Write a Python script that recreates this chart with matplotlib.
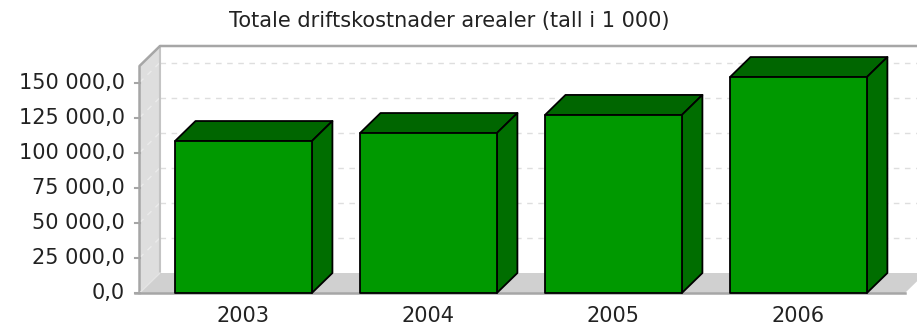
import matplotlib
matplotlib.use('Agg')
import matplotlib.pyplot as plt
from matplotlib.patches import Polygon

years = ['2003', '2004', '2005', '2006']
costs = [108300, 114000, 126900, 153900]
ticks = [0, 25000, 50000, 75000, 100000, 125000, 150000]
tick_labels = ['0,0', '25 000,0', '50 000,0', '75 000,0', '100 000,0', '125 000,0', '150 000,0']
title = 'Totale driftskostnader arealer (tall i 1 000)'

plt.rcParams['font.family'] = 'DejaVu Sans'

fig = plt.figure(figsize=(9.17, 3.29), dpi=100)
ax = fig.add_axes([139.5 / 917, 36 / 329, 765.5 / 917, 227 / 329])
ax.set_xlim(-0.562, 3.576)
ax.set_ylim(0, 161775)
ax.axis('off')

# depth of the fake 3d box in data units
dx = 20.5 / 185
dy = 20 / 35.08 * 25000
xmin, xmax = ax.get_xlim()
ymax = ax.get_ylim()[1]
GREY = '#a6a6a6'
FS = 15


def poly(pts, **kw):
    ax.add_patch(Polygon(pts, closed=True, clip_on=False, **kw))


def line(xs, ys, **kw):
    ax.plot(xs, ys, clip_on=False, **kw)


# walls and floor
poly([(xmin, 0), (xmin + dx, dy), (xmin + dx, ymax + dy), (xmin, ymax)],
     facecolor='#dedede', edgecolor='none', zorder=1)
poly([(xmin, 0), (xmin + dx, dy), (xmax + dx, dy), (xmax, 0)],
     facecolor='#d0d0d0', edgecolor='none', zorder=1)

# grid on side and back wall
for t in ticks[1:]:
    line([xmin, xmin + dx], [t, t + dy], color='#ebebeb', lw=1, ls=(0, (4, 4)), zorder=1.5)
    line([xmin + dx, xmax + dx], [t + dy, t + dy], color='#dedede', lw=1, ls=(0, (4, 4)), zorder=1.5)

# box outline
line([xmin + dx, xmin + dx], [dy, ymax + dy], color='#c4c4c4', lw=1.5, zorder=2)
line([xmin, xmin, xmin + dx, xmax + dx], [0, ymax, ymax + dy, ymax + dy],
     color=GREY, lw=1.8, zorder=2)
line([xmin, xmin + dx], [0, dy], color='#e4e4e4', lw=1, zorder=2)
line([xmin - 0.024, xmax], [0, 0], color=GREY, lw=1.8, zorder=2)
for t in ticks:
    line([xmin - 0.024, xmin], [t, t], color=GREY, lw=1.5, zorder=2)
    ax.annotate(tick_labels[t // 25000], (xmin, t), xytext=(-14.5, 0),
                textcoords='offset pixels', ha='right', va='center',
                fontsize=FS, color='#222222', annotation_clip=False)

# bars
w = 0.37
for i, v in enumerate(costs):
    poly([(i - w, v), (i - w + dx, v + dy), (i + w + dx, v + dy), (i + w, v)],
         facecolor='#006600', edgecolor='black', lw=1.3, joinstyle='round', zorder=3)
    poly([(i + w, 0), (i + w + dx, dy), (i + w + dx, v + dy), (i + w, v)],
         facecolor='#006e00', edgecolor='black', lw=1.3, joinstyle='round', zorder=3)
    poly([(i - w, 0), (i - w, v), (i + w, v), (i + w, 0)],
         facecolor='#009900', edgecolor='black', lw=1.3, joinstyle='round', zorder=4)
    ax.annotate(years[i], (i, 0), xytext=(0, -23), textcoords='offset pixels',
                ha='center', va='center', fontsize=FS, color='#222222',
                annotation_clip=False)

fig.text(449 / 917, 1 - 21 / 329, title, ha='center', va='center', fontsize=FS, color='#222222')

fig.savefig('out.png', dpi=100)
